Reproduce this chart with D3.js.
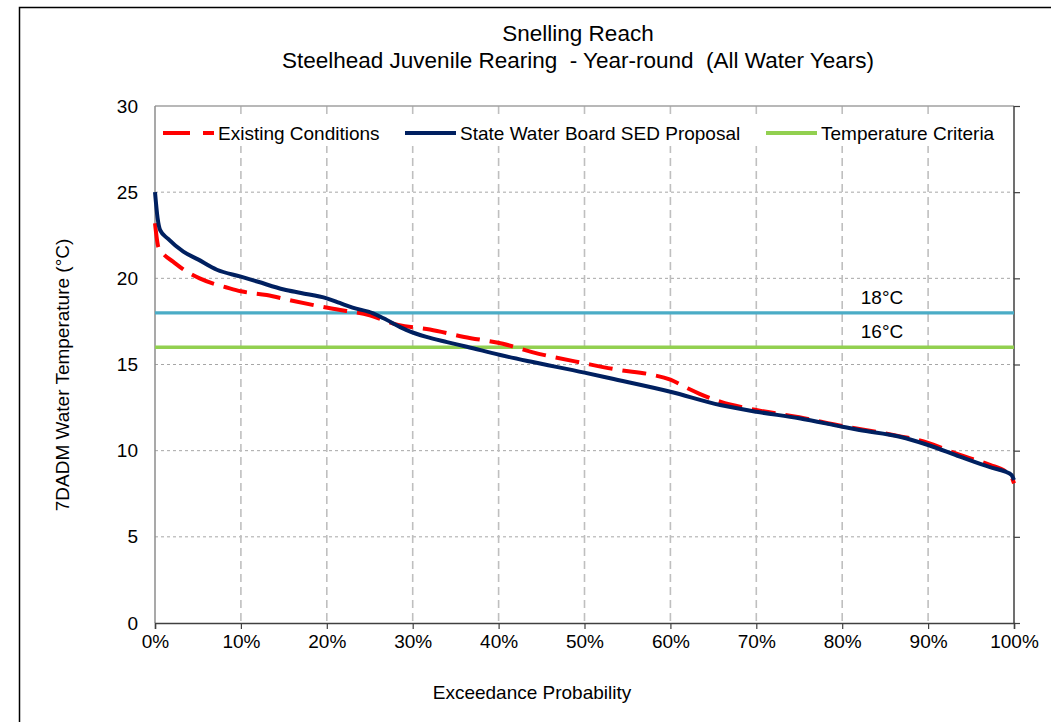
<!DOCTYPE html>
<html><head><meta charset="utf-8">
<script src="https://cdn.jsdelivr.net/npm/d3@7"></script>
<style>
html,body{margin:0;padding:0;background:#fff;}
text{font-family:"Liberation Sans",Arial,sans-serif;fill:#000;}
.pre{white-space:pre;}
</style></head>
<body><svg id="c" width="1051" height="722"></svg>
<script>
const titleLines = ["Snelling Reach", "Steelhead Juvenile Rearing  - Year-round  (All Water Years)"];
const xLabel = "Exceedance Probability";
const yLabel = "7DADM Water Temperature (\u00B0C)";
const xTicks = [0,10,20,30,40,50,60,70,80,90,100];
const yTicks = [0,5,10,15,20,25,30];
const seriesNames = ["Existing Conditions","State Water Board SED Proposal","Temperature Criteria"];

// Existing Conditions (exceedance %, temp)
const existingP = [0,0.4,1,2.1,3.5,5.2,8.7,10,13,16,20.4,25,28.3,32,36,40.5,43.9,50,54.1,57.6,60,62,63.4,65.8,70,75,80,85,90,93.7,97.2,99,99.7,100];
const existingT = [23.2,21.8,21.4,20.97,20.45,20.0,19.42,19.25,19.03,18.7,18.26,17.85,17.3,17.03,16.6,16.2,15.72,15.07,14.68,14.43,14.12,13.62,13.3,12.84,12.36,11.94,11.43,11.0,10.45,9.75,9.17,8.8,8.5,8.1];
// State Water Board SED Proposal
const sedP = [0,0.3,0.6,1.5,3.3,5,7.2,10,12,15,17,20,21.5,23,25.4,26.6,29.3,31.6,34,36.3,40.2,43.7,50,53,60,65.8,70,75,80,82,86.7,90,93.7,97.2,99,99.7,100];
const sedT = [25.0,23.5,22.8,22.3,21.55,21.1,20.5,20.1,19.8,19.35,19.15,18.84,18.57,18.3,17.97,17.68,17.0,16.6,16.3,16.03,15.55,15.17,14.53,14.2,13.42,12.65,12.26,11.88,11.39,11.2,10.81,10.33,9.65,9.04,8.78,8.6,8.3];
// Criteria
const criteriaValues = [18,16];
const criteriaLabels = ["18\u00B0C","16\u00B0C"];

const svg = d3.select("#c");
const L=155, R=1014, T=106, B=623;
const x = d3.scaleLinear().domain([0,100]).range([L,R]);
const y = d3.scaleLinear().domain([0,30]).range([B,T]);

// outer frame
svg.append("path").attr("d","M19.5,730 L19.5,7.5 L1060,7.5").attr("fill","none").attr("stroke","#000").attr("stroke-width",1.5);

// title
titleLines.forEach((t,i)=>{
  svg.append("text").attr("class","pre").attr("x",578).attr("y",[41,68][i]).attr("text-anchor","middle")
    .attr("font-size",22.5).text(t);
});

// gridlines
svg.append("g").selectAll("line").data(yTicks.filter(d=>d>0&&d<30)).join("line")
  .attr("x1",L).attr("x2",R).attr("y1",d=>y(d)).attr("y2",d=>y(d))
  .attr("stroke","#a6a6a6").attr("stroke-width",1).attr("stroke-dasharray","3,3");
svg.append("g").selectAll("line").data(xTicks.filter(d=>d>0&&d<100)).join("line")
  .attr("x1",d=>x(d)).attr("x2",d=>x(d)).attr("y1",T).attr("y2",B)
  .attr("stroke","#bfbfbf").attr("stroke-width",1.6).attr("stroke-dasharray","8,5");

// borders
svg.append("line").attr("x1",L).attr("x2",R).attr("y1",T).attr("y2",T).attr("stroke","#a0a0a0").attr("stroke-width",1.5);
svg.append("line").attr("x1",L).attr("x2",L).attr("y1",T).attr("y2",B).attr("stroke","#8c8c8c").attr("stroke-width",1.5);

// axes
const xAxis = d3.axisBottom(x).tickValues(xTicks).tickFormat(d=>d+"%").tickSize(6).tickPadding(6);
const gx = svg.append("g").attr("transform",`translate(0,${B})`).call(xAxis);
gx.select(".domain").attr("stroke","#404040").attr("stroke-width",1.5);
gx.selectAll(".tick line").attr("stroke","#404040").attr("stroke-width",1.2);
gx.selectAll("text").attr("font-size",19).attr("font-family","Liberation Sans, Arial, sans-serif").attr("fill","#000");

const yAxis = d3.axisLeft(y).tickValues(yTicks).tickSize(0).tickPadding(17);
const gy = svg.append("g").attr("transform",`translate(${L},0)`).call(yAxis);
gy.select(".domain").remove();
gy.selectAll("text").attr("font-size",19).attr("font-family","Liberation Sans, Arial, sans-serif").attr("fill","#000");

const yAxisR = d3.axisRight(y).tickValues(yTicks).tickSize(6).tickFormat("");
const gyr = svg.append("g").attr("transform",`translate(${R},0)`).call(yAxisR);
gyr.select(".domain").attr("stroke","#404040").attr("stroke-width",1.5).attr("d",`M0,${B}V${T}`);
gyr.selectAll(".tick line").attr("stroke","#404040").attr("stroke-width",1.2);

// axis titles
svg.append("text").attr("transform","translate(62,375) rotate(-90)").attr("text-anchor","middle")
  .attr("dominant-baseline","central").attr("font-size",19).text(yLabel);
svg.append("text").attr("x",532).attr("y",699).attr("text-anchor","middle").attr("font-size",19).text(xLabel);

// criteria lines
const critColors = ["#4bacc6","#92d050"];
criteriaValues.forEach((v,i)=>{
  svg.append("line").attr("x1",L).attr("x2",R).attr("y1",y(v)).attr("y2",y(v))
    .attr("stroke",critColors[i]).attr("stroke-width",3.3);
  svg.append("text").attr("x",882).attr("y",y(v)-9).attr("text-anchor","middle").attr("font-size",19).text(criteriaLabels[i]);
});

// series
const line = d3.line().x(d=>x(d[0])).y(d=>y(d[1])).curve(d3.curveMonotoneX);
const existing = existingP.map((p,i)=>[p,existingT[i]]);
const sed = sedP.map((p,i)=>[p,sedT[i]]);
svg.append("path").datum(existing).attr("d",line).attr("fill","none").attr("stroke","#ff0000")
  .attr("stroke-width",4).attr("stroke-dasharray","24,10");
svg.append("path").datum(sed).attr("d",line).attr("fill","none").attr("stroke","#002060")
  .attr("stroke-width",4).attr("stroke-linejoin","round");

// legend
svg.append("rect").attr("x",158).attr("y",118).attr("width",850).attr("height",28).attr("fill","#fff");
const leg = [
  {x:163, color:"#ff0000", dash:"27,13", name:seriesNames[0]},
  {x:405, color:"#002060", dash:null, name:seriesNames[1]},
  {x:766, color:"#92d050", dash:null, name:seriesNames[2]}
];
leg.forEach(l=>{
  const ln = svg.append("line").attr("x1",l.x).attr("x2",l.x+51).attr("y1",133).attr("y2",133)
    .attr("stroke",l.color).attr("stroke-width",4);
  if(l.dash) ln.attr("stroke-dasharray",l.dash);
  svg.append("text").attr("x",l.x+55).attr("y",140).attr("font-size",19).text(l.name);
});
</script></body></html>
